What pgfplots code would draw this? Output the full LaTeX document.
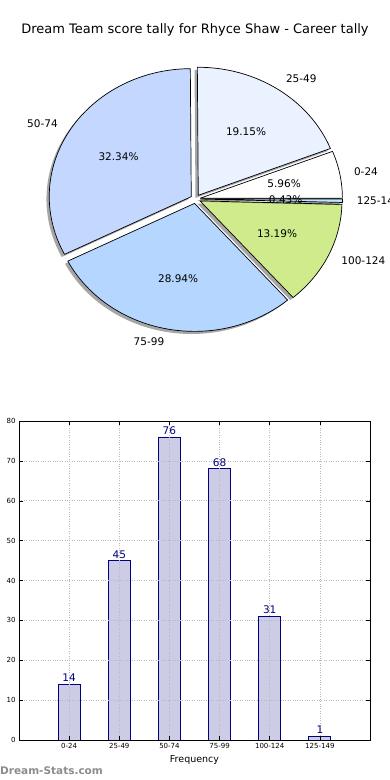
\documentclass[border=0pt]{standalone}
\usepackage{pgfplots}
\pgfplotsset{compat=1.18}
\usepackage{pgfplotstable}
\usepackage{fontspec}
\setmainfont{DejaVu Sans}
\definecolor{c0}{RGB}{255,255,255}
\definecolor{c1}{RGB}{234,242,255}
\definecolor{c2}{RGB}{196,216,255}
\definecolor{c3}{RGB}{181,214,255}
\definecolor{c4}{RGB}{208,235,140}
\definecolor{c5}{RGB}{190,230,255}
\definecolor{barfill}{RGB}{204,204,230}
\definecolor{navy}{RGB}{0,0,128}
\newcommand\piefont{\fontsize{10.5}{12}\selectfont}
\pgfkeys{/pgf/number format/assume math mode=true}

\pgfplotstableread{
label value col
0-24 14 c0
25-49 45 c1
50-74 76 c2
75-99 68 c3
100-124 31 c4
125-149 1 c5
}\scores

\begin{document}
\begin{tikzpicture}
\clip (0pt,0pt) rectangle (390pt,780pt);
\fill[white] (0pt,0pt) rectangle (390pt,780pt);
\node[font=\fontsize{13}{15}\selectfont] at (195pt,750pt) {Dream Team score tally for Rhyce Shaw - Career tally};

\begin{axis}[at={(0pt,0pt)}, anchor=south west, scale only axis,
  width=390pt, height=780pt, xmin=0, xmax=390, ymin=0, ymax=780,
  hide axis, clip=false]
\def\total{0}
\pgfplotsforeachungrouped \i in {0,...,5}{%
  \pgfplotstablegetelem{\i}{value}\of\scores
  \pgfmathsetmacro\total{\total+\pgfplotsretval}}
\def\cum{0}
\pgfplotsforeachungrouped \i in {0,...,5}{%
  \pgfplotstablegetelem{\i}{value}\of\scores \let\v\pgfplotsretval
  \pgfplotstablegetelem{\i}{label}\of\scores \let\lab\pgfplotsretval
  \pgfplotstablegetelem{\i}{col}\of\scores \let\col\pgfplotsretval
  \pgfmathsetmacro\aA{\cum/\total*360}%
  \pgfmathsetmacro\cum{\cum+\v}%
  \pgfmathsetmacro\aB{\cum/\total*360}%
  \pgfmathsetmacro\am{(\aA+\aB)/2}%
  \pgfmathsetmacro\cx{195.5+0.035*142*cos(\am)}%
  \pgfmathsetmacro\cy{581+0.035*128*sin(\am)}%
  \pgfmathsetmacro\sx{\cx-2.8}%
  \pgfmathsetmacro\sy{\cy-2.6}%
  \pgfmathsetmacro\rxA{\cx+142*cos(\aA)}%
  \pgfmathsetmacro\ryA{\cy+128*sin(\aA)}%
  \pgfmathsetmacro\srxA{\sx+142*cos(\aA)}%
  \pgfmathsetmacro\sryA{\sy+128*sin(\aA)}%
  \pgfmathsetmacro\lx{\cx+1.1*142*cos(\am)}%
  \pgfmathsetmacro\ly{\cy+1.1*128*sin(\am)}%
  \pgfmathsetmacro\px{\cx+0.6*142*cos(\am)}%
  \pgfmathsetmacro\py{\cy+0.6*128*sin(\am)}%
  \pgfmathsetmacro\pct{\v*100/\total}%
  \pgfmathprintnumberto[fixed,fixed zerofill,precision=2,assume math mode=true]{\pct}{\pcttext}%
  \pgfmathsetmacro\cs{cos(\am)}%
  \ifdim\cs pt<0pt \def\anch{east}\else\def\anch{west}\fi
  \edef\cmd{%
    \noexpand\fill[black, fill opacity=0.35] (axis cs:\sx,\sy) -- (axis cs:\srxA,\sryA) arc[start angle=\aA, end angle=\aB, x radius=142, y radius=128] -- cycle;
    \noexpand\filldraw[fill=\col, draw=black, line width=0.7pt, line join=round] (axis cs:\cx,\cy) -- (axis cs:\rxA,\ryA) arc[start angle=\aA, end angle=\aB, x radius=142, y radius=128] -- cycle;
    \noexpand\node[font=\noexpand\piefont, anchor=\anch, inner sep=0pt] at (axis cs:\lx,\ly) {\lab};
    \noexpand\node[font=\noexpand\piefont, inner sep=0pt] at (axis cs:\px,\py) {\pcttext\noexpand\%};
  }%
  \cmd
}
\end{axis}

\begin{axis}[at={(69.143pt,40pt)}, anchor=origin, scale only axis,
  width=351pt, height=319pt,
  xmin=-1, xmax=6, ymin=0, ymax=80,
  ytick={0,10,...,80}, xtick={0,...,5},
  xticklabels={0-24,25-49,50-74,75-99,100-124,125-149},
  ybar, bar width=22pt,
  grid=major, grid style={dotted, gray!55, line width=0.7pt},
  tick align=inside, major tick length=4pt, tick style={black, line width=0.5pt},
  axis line style={black, line width=0.8pt},
  ticklabel style={font=\fontsize{7}{8}\selectfont},
  /pgf/number format/assume math mode=true,
  xlabel={Frequency},
  xlabel style={font=\fontsize{9.5}{10}\selectfont, at={(axis description cs:0.5,-0.0627)}, anchor=center},
  nodes near coords,
  nodes near coords style={navy, font=\fontsize{10.5}{11}\selectfont, inner sep=2pt},
  axis on top]
\addplot[fill=barfill, draw=navy, line width=0.8pt] table[x expr=\coordindex, y=value] {\scores};
\end{axis}

\node[anchor=west, inner sep=0pt, text=black!45, font=\bfseries\fontsize{10.5}{11}\selectfont] at (0pt,9pt) {Dream-Stats.com};
\end{tikzpicture}
\end{document}
